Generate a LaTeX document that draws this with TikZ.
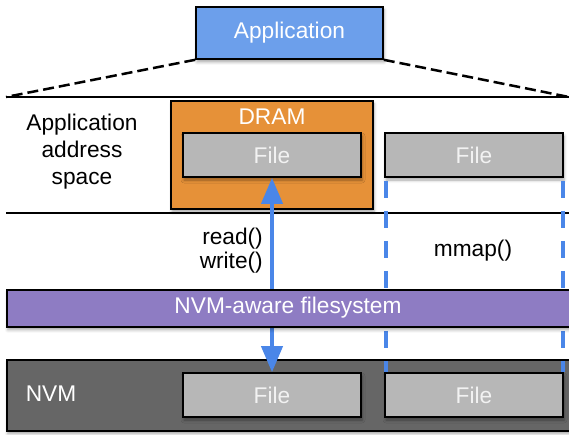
\documentclass[tikz,border=0pt]{standalone}
\usepackage{fontspec}
\setmainfont{Liberation Sans}
\usetikzlibrary{
  arrows.meta,
  shadows.blur
}
\definecolor{appblue}{RGB}{108,159,235}
\definecolor{dramorange}{RGB}{230,145,56}
\definecolor{filegray}{RGB}{183,183,183}
\definecolor{fspurple}{RGB}{142,124,195}
\definecolor{nvmgray}{RGB}{102,102,102}
\definecolor{linkblue}{RGB}{74,134,232}

\begin{document}
\begin{tikzpicture}[
  x=1pt,
  y=-1pt,
  font=\fontsize{22.7}{27}\selectfont,
  plain/.style={
    draw=none,
    fill=none,
    inner sep=0pt,
  },
  box/.style={
    draw,
    rectangle,
    line width=1.6pt,
    inner sep=0pt,
    text=white,
    blur shadow={shadow xshift=1pt, shadow yshift=-3pt,
      shadow blur radius=3pt, shadow opacity=35},
  },
  filebox/.style={
    box,
    fill=filegray,
    minimum width=178pt,
    minimum height=44pt,
    text=white!95!black,
  },
  layer/.style={
    box,
    minimum width=569pt,
    anchor=north west,
  },
  divider/.style={
    line width=1.6pt,
  },
  mapline/.style={
    linkblue,
    line width=3.5pt,
    dash pattern=on 17pt off 13pt,
    dash phase=27pt,
  },
  >={Triangle[length=26pt,width=21pt]}
]
\useasboundingbox (0,0) rectangle (569,435);

% Address space borders
\coordinate (topleft) at (6,97);
\coordinate (topright) at (569,97);
\coordinate (midleft) at (6,213);
\coordinate (midright) at (569,213);
\draw[divider] (topleft) -- (topright);
\draw[divider] (midleft) -- (midright);

% Application
\node[box, fill=appblue, minimum width=187pt, minimum height=52pt] (app) at (289.5,33) {Application};
\draw[line width=2.5pt, dash pattern=on 11pt off 5pt] (app.south west) -- (topleft);
\draw[line width=2.5pt, dash pattern=on 11pt off 5pt] (app.south east) -- (topright);

% Address space
\node[plain, align=center] (space) at (82,152) {Application\\address\\space};
\node[box, fill=dramorange, minimum width=202pt, minimum height=108pt] (dram) at (272,155) {};
\node[plain, text=white] (dramtxt) at (272,117) {DRAM};
\node[filebox] (file1) at (272,155) {File};
\node[filebox] (file2) at (474,155) {File};

% NVM
\node[layer, fill=nvmgray, minimum height=71pt] (nvm) at (6,359) {};
\node[plain, text=white] (nvmtxt) at (51,394) {NVM};
\node[filebox] (file3) at (272,395) {File};
\node[filebox] (file4) at (474,395) {File};

% Accesses
\draw[<->, linkblue, line width=4pt] (file3.north) -- (file1.south);
\draw[mapline] ([xshift=2pt]file2.south west) -- ([xshift=2pt]file4.north west);
\draw[mapline] ([xshift=-1pt]file2.south east) -- ([xshift=-1pt]file4.north east);

\node[layer, fill=fspurple, minimum height=37pt] (fs) at (6,289) {};
\node[plain, text=white] (fstxt) at (288,308) {NVM-aware filesystem};

\node[plain, align=right, anchor=east, font=\fontsize{22.7}{24}\selectfont] (rw) at (263,251) {read()\\write()};
\node[plain] (mmap) at (473,251) {mmap()};

\end{tikzpicture}
\end{document}
